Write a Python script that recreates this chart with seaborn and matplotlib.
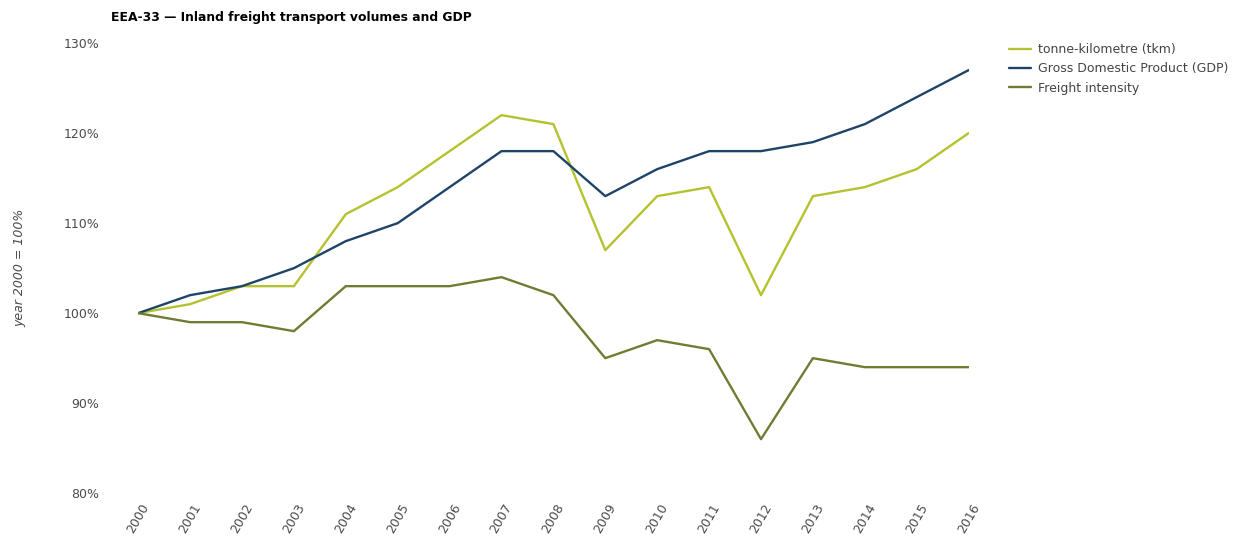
import numpy as np
import pandas as pd
import matplotlib
matplotlib.use("Agg")
import matplotlib.pyplot as plt
import seaborn as sns
from matplotlib.ticker import FuncFormatter

years = list(range(2000, 2017))
tkm = [100, 101, 103, 103, 111, 114, 118, 122, 121, 107, 113, 114, 102, 113, 114, 116, 120]
gdp = [100, 102, 103, 105, 108, 110, 114, 118, 118, 113, 116, 118, 118, 119, 121, 124, 127]
intensity = [100, 99, 99, 98, 103, 103, 103, 104, 102, 95, 97, 96, 86, 95, 94, 94, 94]

series_names = ['tonne-kilometre (tkm)', 'Gross Domestic Product (GDP)', 'Freight intensity']
colors = ['#b5c22f', '#1f4468', '#6e7d32']

df = pd.DataFrame({
    'year': years * 3,
    'value': tkm + gdp + intensity,
    'series': [series_names[0]] * len(years) + [series_names[1]] * len(years) + [series_names[2]] * len(years),
})

sns.set_theme(style='white')
plt.rcParams['font.family'] = ['DejaVu Sans']

fig = plt.figure(figsize=(12.45, 5.39), dpi=100)
ax = fig.add_axes([0.111, 0.085, 0.667, 0.835])

sns.lineplot(data=df, x='year', y='value', hue='series', palette=colors,
             hue_order=series_names, linewidth=1.7, ax=ax)

ax.set_xlim(2000, 2016)
ax.set_ylim(80, 130)
ax.set_yticks([80, 90, 100, 110, 120, 130])
ax.yaxis.set_major_formatter(FuncFormatter(lambda v, p: f'{int(v)}%'))
ax.set_xticks(years)
ax.set_xticklabels([str(y) for y in years], rotation=60, ha='center', va='top')
ax.tick_params(axis='y', length=0, pad=28, labelsize=9, labelcolor='#4a4a4a')
ax.tick_params(axis='x', length=0, pad=6, labelsize=9, labelcolor='#4a4a4a')
for s in ax.spines.values():
    s.set_visible(False)

ax.set_xlabel('')
ax.set_ylabel('year 2000 = 100%', fontsize=9, style='italic', color='#4a4a4a', labelpad=27)

fig.text(0.089, 0.968, 'EEA-33 \u2014 Inland freight transport volumes and GDP',
         fontsize=8.9, fontweight='bold', color='#000000', ha='left', va='center')

leg = ax.legend(loc='upper left', bbox_to_anchor=(1.035, 1.025), frameon=False,
                fontsize=9, handlelength=1.8, handletextpad=0.5, labelspacing=0.5)
for t in leg.get_texts():
    t.set_color('#444444')

fig.savefig('out.png', dpi=100)
